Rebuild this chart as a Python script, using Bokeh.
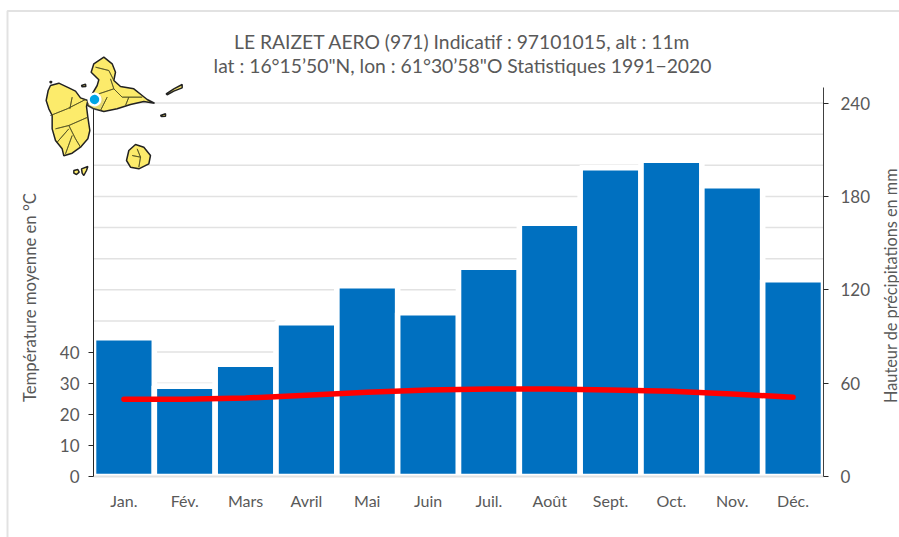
import numpy as np
from bokeh.plotting import figure
from bokeh.embed import file_html
from bokeh.resources import INLINE
from bokeh.models import (Range1d, LinearAxis, FixedTicker, Label, PolyAnnotation)

months = ["Jan.", "Fév.", "Mars", "Avril", "Mai", "Juin", "Juil.", "Août", "Sept.", "Oct.", "Nov.", "Déc."]
precip = [89.2, 58.1, 72.2, 98.8, 122.6, 105.2, 134.5, 162.8, 198.4, 203.2, 186.9, 126.4]
temp = [24.8, 24.8, 25.2, 26.1, 27.1, 27.8, 28.1, 28.1, 27.8, 27.4, 26.5, 25.5]
temp_ticks = [0, 10, 20, 30, 40]
precip_ticks = [0, 60, 120, 180, 240]
grid_ticks = [10, 20, 30, 40, 50, 60, 70, 80, 90, 100, 110, 120]
title_1 = "LE RAIZET AERO (971) Indicatif : 97101015, alt : 11m"
title_2 = "lat : 16°15’50\"N, lon : 61°30’58\"O Statistiques 1991−2020"
label_left = "Température moyenne en °C"
label_right = "Hauteur de précipitations en mm"

# Decorative map outline (3x zoomed page coordinates)
basse_terre = [(150,255),(175,248),(205,262),(225,272),(240,292),(262,300),(258,318),(262,350),(268,390),(262,415),
               (240,440),(215,458),(190,466),(185,445),(165,420),(155,385),(155,345),(145,325),(137,300),(143,270)]
grande_terre = [(262,303),(290,255),(295,238),(272,215),(280,190),(310,170),(335,190),(345,215),(340,240),(360,258),
                (400,265),(425,285),(440,297),(462,308),(430,303),(390,312),(350,325),(310,333),(280,325),(262,315)]
marie_galante = [(405,432),(430,440),(450,465),(445,490),(415,505),(390,500),(378,480),(385,450)]
desirade = [(497,280),(520,265),(545,252),(545,262),(520,272),(500,283)]
petite_terre = [(480,345),(495,340),(495,347),(483,348)]
saintes_a = [(220,510),(232,507),(236,515),(228,522),(220,518)]
saintes_b = [(243,505),(262,498),(258,510),(250,525),(245,518)]
kahouanne = [(243,255),(255,251),(256,258),(245,259)]
tete_a_l_anglais = [(149,243),(153,243),(153,247),(149,247)]
inner_lines = [
    [(150,345),(200,325),(255,297)],
    [(165,385),(205,375),(262,350)],
    [(205,375),(225,415),(240,440)],
    [(170,425),(205,385)],
    [(195,460),(215,405)],
    [(215,290),(208,325)],
    [(285,200),(325,210),(340,240)],
    [(295,280),(340,265),(365,290),(425,290)],
    [(340,265),(330,235)],
    [(300,330),(320,290)],
    [(385,290),(375,315)],
    [(395,465),(420,470),(415,500)],
    [(420,470),(410,445)],
]

FILL = "#FCEB6B"
EDGE = "#222222"
GREY = "#595959"
FONT = "Lato"

W, H = 899, 537
LEFT, RIGHT, TOP, BOTTOM = 93, 823, 87, 476
PX_X = (RIGHT - LEFT) / 12          # pixels per month
PX_Y = (BOTTOM - TOP) / 125         # pixels per degree
pos = list(range(1, 13))

p = figure(width=W, height=H, output_backend="svg", toolbar_location=None,
           x_range=Range1d(0.5 - LEFT / PX_X, 0.5 + (W - LEFT) / PX_X),
           y_range=Range1d(-(H - BOTTOM) / PX_Y, BOTTOM / PX_Y),
           min_border_left=0, min_border_right=0, min_border_top=0, min_border_bottom=0)
p.outline_line_color = None
p.xgrid.visible = False
p.ygrid.visible = False
p.extra_y_ranges = {"precip": Range1d(-2 * (H - BOTTOM) / PX_Y, 2 * BOTTOM / PX_Y)}

p.segment(x0=[0.5] * len(grid_ticks), x1=[12.5] * len(grid_ticks), y0=grid_ticks, y1=grid_ticks,
          line_color="#e2e2e2", line_width=1.5)

p.vbar(x=pos, top=precip, width=1, bottom=0, y_range_name="precip",
       fill_color="#0070C0", line_color="white", line_width=5.6)
p.line(x=pos, y=temp, line_color="#FF0000", line_width=5.5, line_cap="round", line_join="round")

xa = p.xaxis[0]
xa.fixed_location = 0
xa.bounds = (0.5, 12.5)
xa.ticker = FixedTicker(ticks=pos)
xa.major_label_overrides = dict(zip(pos, months))
xa.axis_line_color = "#e2e2e2"
xa.axis_line_width = 2
xa.major_tick_line_color = None
xa.minor_tick_line_color = None
xa.major_label_text_color = GREY
xa.major_label_text_font = FONT
xa.major_label_text_font_size = "16px"
xa.major_label_standoff = 8

ya = p.yaxis[0]
ya.fixed_location = 0.5
ya.ticker = FixedTicker(ticks=temp_ticks)
ya.bounds = (0, 120)
ya.axis_line_color = "#262626"
ya.major_tick_line_color = "#262626"
ya.major_tick_in = 0
ya.major_tick_out = 5
ya.minor_tick_line_color = None
ya.major_label_text_color = GREY
ya.major_label_text_font = FONT
ya.major_label_text_font_size = "17px"
ya.major_label_standoff = 9

yr = LinearAxis(y_range_name="precip", ticker=FixedTicker(ticks=precip_ticks))
yr.fixed_location = 12.5
yr.bounds = (0, 250)
yr.axis_line_color = "#404040"
yr.major_tick_line_color = "#262626"
yr.major_tick_in = 0
yr.major_tick_out = 5
yr.minor_tick_line_color = None
yr.major_label_text_color = GREY
yr.major_label_text_font = FONT
yr.major_label_text_font_size = "17px"
yr.major_label_standoff = 12
p.add_layout(yr, "right")


def txt(s, x, y, size, angle=0):
    p.add_layout(Label(x=x, y=y, x_units="canvas", y_units="canvas", text=s, level="overlay",
                       text_font=FONT, text_font_size=size, text_color=GREY,
                       text_align="center", text_baseline="middle", angle=angle))


def poly(pts, fill=FILL, edge=EDGE, lw=1.5, fa=1.0):
    p.add_layout(PolyAnnotation(xs=[a / 3 for a, b in pts], ys=[b / 3 for a, b in pts],
                                xs_units="canvas", ys_units="canvas", level="overlay",
                                fill_color=fill, fill_alpha=fa, line_color=edge, line_width=lw, line_alpha=1))


txt(title_1, 462, 41, "19.3px")
txt(title_2, 462, 65, "19.3px")
txt(label_left, 29, 297, "16.7px", np.pi / 2)
txt(label_right, 890, 285, "16.3px", np.pi / 2)

# Page border
p.add_layout(PolyAnnotation(xs=[7, 910, 910, 7], ys=[10.5, 10.5, 560, 560],
                            xs_units="canvas", ys_units="canvas", level="overlay",
                            fill_alpha=0, line_color="#e2e2e2", line_width=2, line_alpha=1))

for shape in (basse_terre, grande_terre, marie_galante, desirade, petite_terre, saintes_a, saintes_b,
              kahouanne, tete_a_l_anglais):
    poly(shape)
for ln in inner_lines:
    poly(ln + ln[::-1], fill=None, edge="#4a4a20", lw=0.7, fa=0)

t = np.linspace(0, 2 * np.pi, 40)[:-1]
poly(list(zip(285 + 25 * np.cos(t), 305 + 25 * np.sin(t))), fill="#888888", edge=None, lw=0, fa=0.18)
poly(list(zip(282 + 21 * np.cos(t), 297 + 21 * np.sin(t))), fill="white", edge=None, lw=0)
poly(list(zip(282 + 14 * np.cos(t), 297 + 14 * np.sin(t))), fill="#00A5E6", edge=None, lw=0)

open("out.html", "w").write(file_html(p, INLINE))
